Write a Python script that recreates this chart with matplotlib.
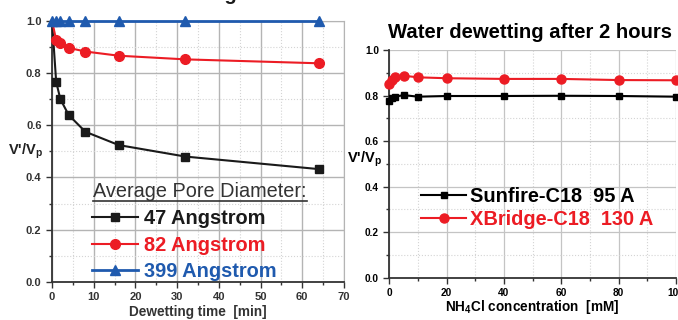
import matplotlib
matplotlib.use("Agg")
import matplotlib.pyplot as plt
from matplotlib.lines import Line2D
from matplotlib.ticker import MultipleLocator

plt.rcParams['font.family'] = ['Liberation Sans', 'DejaVu Sans']
plt.rcParams['mathtext.fontset'] = 'custom'
plt.rcParams['mathtext.rm'] = 'Liberation Sans:bold'
plt.rcParams['mathtext.bf'] = 'Liberation Sans:bold'

# left panel: dewetting kinetics
time_min = [0, 1, 2, 4, 8, 16, 32, 64]
pore47 = [1.0, 0.766, 0.700, 0.639, 0.575, 0.524, 0.480, 0.432]
pore82 = [1.0, 0.926, 0.913, 0.896, 0.882, 0.866, 0.852, 0.837]
pore399 = [1.0, 1.0, 1.0, 1.0, 1.0, 1.0, 1.0, 1.0]
left_labels = ['47 Angstrom', '82 Angstrom', '399 Angstrom']

# right panel: after 2 hours vs NH4Cl
conc_mM = [0, 1, 2, 5, 10, 20, 40, 60, 80, 100]
sunfire = [0.775, 0.790, 0.795, 0.802, 0.795, 0.798, 0.798, 0.799, 0.798, 0.795]
xbridge = [0.850, 0.868, 0.880, 0.887, 0.880, 0.876, 0.873, 0.873, 0.868, 0.867]
right_labels = ['Sunfire-C18  95 A', 'XBridge-C18  130 A']

BLACK = '#1a1a1a'
RED = '#ec1c24'
BLUE = '#1f5aae'
GRID = '#b4b4b4'

W, H = 678, 320
fig = plt.figure(figsize=(W / 100, H / 100), dpi=100)


def px_axes(x0, x1, ytop, ybot):
    return fig.add_axes([x0 / W, 1 - ybot / H, (x1 - x0) / W, (ybot - ytop) / H])


def style(ax, tick_color, tick_size):
    ax.grid(True, which='major', color=GRID, lw=1.0, ls='-')
    ax.grid(True, which='minor', color='#d4d4d4', lw=0.8, ls=':')
    ax.set_axisbelow(True)
    ax.tick_params(which='both', direction='out', colors='#333333',
                   labelcolor=tick_color, labelsize=tick_size, width=1.0)
    ax.tick_params(which='major', length=4)
    ax.tick_params(which='minor', length=2.5)
    for lab in ax.get_xticklabels() + ax.get_yticklabels():
        lab.set_fontweight('bold')
    for s in ('left', 'bottom'):
        ax.spines[s].set_color('#333333')
        ax.spines[s].set_linewidth(1.3)


# ---- left ----
ax1 = px_axes(52, 344, 20.7, 282)
ax1.plot(time_min, pore47, color=BLACK, lw=1.5, marker='s', ms=6.2, markevery=slice(1, None),
         label=left_labels[0], clip_on=False, zorder=3)
ax1.plot(time_min, pore82, color=RED, lw=1.5, marker='o', ms=7, markevery=slice(1, None),
         label=left_labels[1], clip_on=False, zorder=3)
ax1.plot(time_min, pore399, color=BLUE, lw=2, marker='^', ms=7, label=left_labels[2], clip_on=False, zorder=4)
ax1.set_xlim(0, 70)
ax1.set_ylim(0, 1.0)
ax1.xaxis.set_major_locator(MultipleLocator(10))
ax1.xaxis.set_minor_locator(MultipleLocator(5))
ax1.set_yticks([0, 0.2, 0.4, 0.6, 0.8, 1.0])
ax1.set_yticklabels(['0.0', '0.2', '0.4', '0.6', '0.8', '1.0'])
ax1.yaxis.set_minor_locator(MultipleLocator(0.1))
style(ax1, '#333333', 8)
for s in ('top', 'right'):
    ax1.spines[s].set_color(GRID)
ax1.set_xlabel('Dewetting time  [min]', fontsize=9.8, fontweight='bold', color='#333333', labelpad=2)
ax1.set_ylabel(r"V'/V$_\mathbf{p}$", fontsize=10.5, fontweight='bold', color='#222222',
               rotation=0, ha='center', va='center')
ax1.yaxis.set_label_coords(-0.09, 0.5)

ax1.legend(loc='upper left', bbox_to_anchor=(92 / W, 1 - 209 / H), bbox_transform=fig.transFigure,
           frameon=False, prop={'size': 14.4, 'weight': 'bold'}, labelcolor='linecolor',
           handlelength=2.3, handletextpad=0.3, labelspacing=0.38, borderpad=0, borderaxespad=0)
ttl = fig.text(93 / W, 1 - 196.7 / H, 'Average Pore Diameter:', fontsize=14.3, color='#333333',
               ha='left', va='baseline')
fig.canvas.draw()
bb = ttl.get_window_extent(fig.canvas.get_renderer())
fig.add_artist(Line2D([bb.x0 / W, bb.x1 / W], [1 - 200.5 / H] * 2, transform=fig.transFigure,
                      color='#333333', lw=1.2))

# clipped title of the left panel (only a descender is visible)
fig.text(237 / W, 1 - 0.5 / H, 'Water dewetting', fontsize=14.5, fontweight='bold',
         color=BLACK, ha='right', va='baseline')

# ---- right ----
ax2 = px_axes(389.3, 676, 50, 277.7)
ax2.plot(conc_mM, sunfire, color='black', lw=1.5, marker='s', ms=5, label=right_labels[0], clip_on=False, zorder=3)
ax2.plot(conc_mM, xbridge, color=RED, lw=1.5, marker='o', ms=6.5, label=right_labels[1], clip_on=False, zorder=3)
ax2.set_xlim(0, 100)
ax2.set_ylim(0, 1.0)
ax2.xaxis.set_major_locator(MultipleLocator(20))
ax2.xaxis.set_minor_locator(MultipleLocator(10))
ax2.set_yticks([0, 0.2, 0.4, 0.6, 0.8, 1.0])
ax2.set_yticklabels(['0.0', '0.2', '0.4', '0.6', '0.8', '1.0'])
ax2.yaxis.set_minor_locator(MultipleLocator(0.1))
style(ax2, 'black', 7.3)
ax2.grid(True, which='major', color='#c4c4c4', lw=0.9, ls='-')
for s in ('top', 'right'):
    ax2.spines[s].set_visible(False)
ax2.set_xlabel(r'NH$_\mathbf{4}$Cl concentration  [mM]', fontsize=9.8, fontweight='bold', labelpad=0)
ax2.set_ylabel(r"V'/V$_\mathbf{p}$", fontsize=10.5, fontweight='bold', rotation=0, ha='center', va='center')
ax2.yaxis.set_label_coords(-0.085, 0.52)
ax2.legend(loc='upper left', bbox_to_anchor=(421 / W, 1 - 187 / H), bbox_transform=fig.transFigure,
           frameon=False, prop={'size': 14.4, 'weight': 'bold'}, labelcolor='linecolor',
           handlelength=2.25, handletextpad=0.2, labelspacing=0.22, borderpad=0, borderaxespad=0)

fig.text(388 / W, 1 - 38 / H, 'Water dewetting after 2 hours', fontsize=14.6, fontweight='bold',
         color='black', ha='left', va='baseline')

fig.savefig('out.png', dpi=100)
